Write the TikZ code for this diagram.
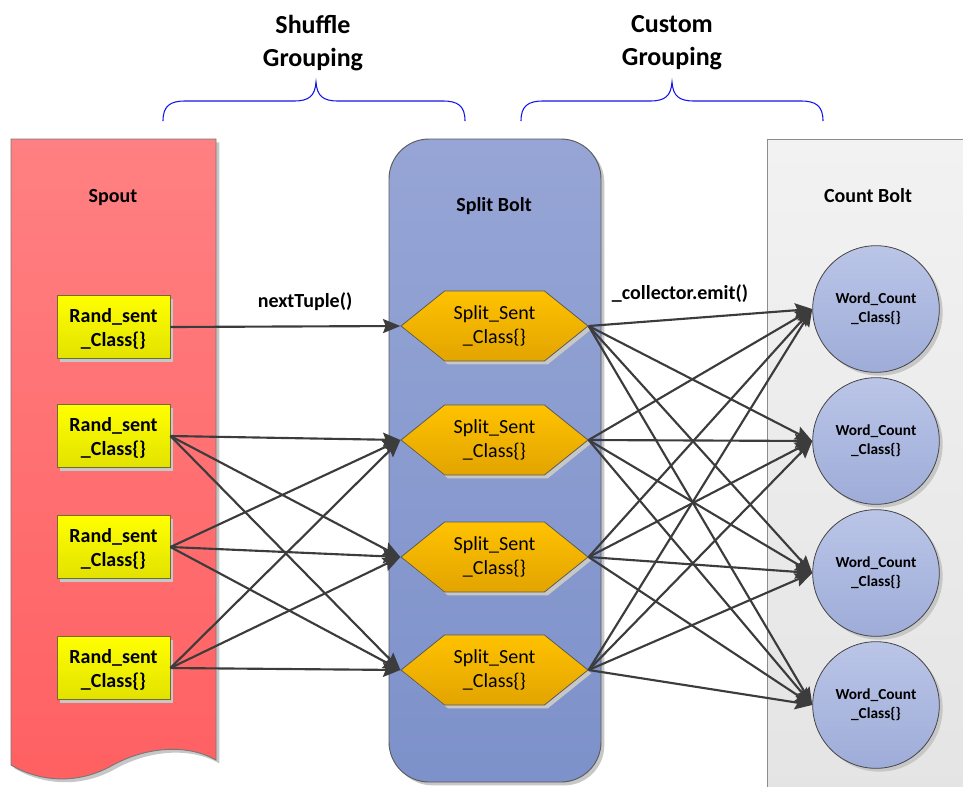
\documentclass[tikz,border=0pt]{standalone}
\usepackage{fontspec}
\setmainfont{Carlito}
\usetikzlibrary{arrows.meta,shapes.symbols,shadows}

\definecolor{spoutTop}{RGB}{255,128,130}
\definecolor{spoutBot}{RGB}{255,96,98}
\definecolor{spoutEdge}{RGB}{120,120,120}
\definecolor{boltTop}{RGB}{150,165,213}
\definecolor{boltBot}{RGB}{125,145,202}
\definecolor{boltEdge}{RGB}{90,90,90}
\definecolor{countTop}{RGB}{242,242,242}
\definecolor{countBot}{RGB}{228,228,228}
\definecolor{countEdge}{RGB}{140,140,140}
\definecolor{hexTop}{RGB}{255,194,0}
\definecolor{hexBot}{RGB}{226,164,0}
\definecolor{hexEdge}{RGB}{90,90,90}
\definecolor{randTop}{RGB}{255,255,0}
\definecolor{randBot}{RGB}{226,226,0}
\definecolor{randEdge}{RGB}{110,110,50}
\definecolor{wcTop}{RGB}{186,197,231}
\definecolor{wcBot}{RGB}{158,172,216}
\definecolor{wcEdge}{RGB}{70,70,70}
\definecolor{flow}{RGB}{60,60,60}
\definecolor{braceBlue}{RGB}{20,20,235}

\begin{document}
\begin{tikzpicture}[x=0.75pt,y=-0.75pt,
  softshadow/.style={drop shadow={shadow xshift=2.5pt,shadow yshift=-2.5pt,fill=black!22,opacity=1}},
  randbox/.style={rectangle,draw=randEdge,line width=0.6pt,top color=randTop,bottom color=randBot,
    minimum width=84.75pt,minimum height=47pt,inner sep=0pt,align=center,softshadow,
    text depth=0pt,font=\bfseries\fontsize{15}{18}\selectfont},
  hexnode/.style={signal,signal to=east and west,signal pointer angle=77.6,
    minimum width=140.25pt,minimum height=52.5pt,inner sep=0pt,align=center,
    draw=hexEdge,line width=0.6pt,top color=hexTop,bottom color=hexBot,softshadow,
    font=\fontsize{15}{18.5}\selectfont},
  wcnode/.style={circle,minimum size=95pt,inner sep=0pt,align=center,
    draw=wcEdge,line width=0.6pt,top color=wcTop,bottom color=wcBot,softshadow,
    font=\bfseries\fontsize{11.5}{14.2}\selectfont},
  title/.style={font=\bfseries\fontsize{15}{18}\selectfont,inner sep=0pt},
  header/.style={font=\bfseries\fontsize{19.5}{24.75}\selectfont,align=center,inner sep=0pt},
  flowarrow/.style={draw=flow,line width=1.6pt,-{Stealth[length=13pt,width=10.5pt,inset=2pt]}},
  bracepath/.style={draw=braceBlue,line width=0.8pt}
]
\useasboundingbox (0,0) rectangle (963,786);
\clip (0,0) rectangle (963,786);

% containers
\path[draw=spoutEdge,line width=0.7pt,top color=spoutTop,bottom color=spoutBot,softshadow]
  (11,139) -- (216,139) -- (216,760)
  .. controls (190,745) and (150,745) .. (113,765)
  .. controls (78,785) and (40,782) .. (11,765) -- cycle;
\path[draw=boltEdge,line width=0.7pt,rounded corners=30pt,top color=boltTop,bottom color=boltBot,softshadow]
  (389,139) rectangle (601,782);
\path[draw=countEdge,line width=0.7pt,top color=countTop,bottom color=countBot]
  (767,139) rectangle (990,800);

% container titles
\node[title] (spoutT) at (113,198) {Spout};
\node[title] (splitT) at (494,206) {Split Bolt};
\node[title] (countT) at (868,196) {Count Bolt};

% grouping headers and braces
\node[header] (shuffleH) at (313,43) {Shuffle\\Grouping};
\node[header] (customH) at (672,43) {Custom\\Grouping};
\path[bracepath] (163,121) .. controls (163,106) and (170,101) .. (185,101) -- (294,101)
  .. controls (309,101) and (315,96) .. (316,82)
  .. controls (317,96) and (323,101) .. (338,101) -- (443,101)
  .. controls (458,101) and (465,106) .. (465,121);
\path[bracepath] (521,121) .. controls (521,106) and (528,101) .. (543,101) -- (650,101)
  .. controls (665,101) and (671,96) .. (672,82)
  .. controls (673,96) and (679,101) .. (694,101) -- (801,101)
  .. controls (816,101) and (823,106) .. (823,121);

% spout tasks
\node[randbox] (r1) at (113.5,327) {Rand\_sent\\\_Class\{\}};
\node[randbox] (r2) at (113.5,436) {Rand\_sent\\\_Class\{\}};
\node[randbox] (r3) at (113.5,547) {Rand\_sent\\\_Class\{\}};
\node[randbox] (r4) at (113.5,668) {Rand\_sent\\\_Class\{\}};

% split bolt tasks
\node[hexnode] (h1) at (494.5,326) {Split\_Sent\\\_Class\{\}};
\node[hexnode] (h2) at (494.5,440) {Split\_Sent\\\_Class\{\}};
\node[hexnode] (h3) at (494.5,557) {Split\_Sent\\\_Class\{\}};
\node[hexnode] (h4) at (494.5,670) {Split\_Sent\\\_Class\{\}};

% count bolt tasks
\node[wcnode] (w1) at (876,309) {Word\_Count\\\_Class\{\}};
\node[wcnode] (w2) at (876,441) {Word\_Count\\\_Class\{\}};
\node[wcnode] (w3) at (876,573) {Word\_Count\\\_Class\{\}};
\node[wcnode] (w4) at (876,705) {Word\_Count\\\_Class\{\}};

% stream labels
\node[title] (nextT) at (305,302) {nextTuple()};
\node[title] (emitT) at (680,294) {\_collector.emit()};

% shuffle grouping streams
\draw[flowarrow] (r1.east) -- (h1.west);
\foreach \s in {2,3,4}
  \foreach \t in {2,3,4}
    \draw[flowarrow] (r\s.east) -- (h\t.west);

% custom grouping streams
\foreach \s in {1,2,3,4}
  \foreach \t in {1,2,3,4}
    \draw[flowarrow] (h\s.east) -- (w\t.west);
\end{tikzpicture}
\end{document}
